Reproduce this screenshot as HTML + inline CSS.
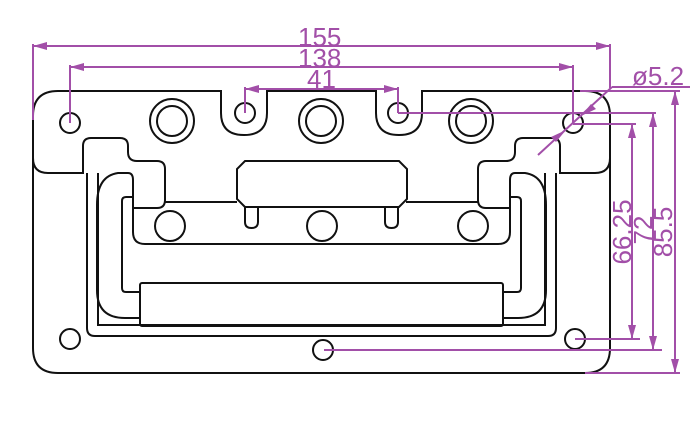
<!DOCTYPE html>
<html><head><meta charset="utf-8"><style>
html,body{margin:0;padding:0;background:#fff;}
svg{display:block;}
text{font-family:"Liberation Sans",sans-serif;fill:#a24fa8;font-size:26px;}
</style></head><body>
<svg width="700" height="446" viewBox="0 0 700 446" xmlns="http://www.w3.org/2000/svg">
<g fill="none" stroke="#111" stroke-width="2">
<!-- outer plate -->
<path d="M58,91 L221,91 L221,113 Q221,135 244,135 Q267,135 267,113 L267,91 L376,91 L376,113 Q376,135 399,135 Q422,135 422,113 L422,91 L585,91 Q610,91 610,116 L610,348 Q610,373 585,373 L58,373 Q33,373 33,348 L33,116 Q33,91 58,91 Z"/>
<!-- holes -->
<circle cx="70" cy="123" r="10"/><circle cx="573" cy="123" r="10"/>
<circle cx="70" cy="339" r="10"/><circle cx="575" cy="339" r="10"/>
<circle cx="323" cy="350" r="10"/>
<circle cx="245" cy="113" r="10"/><circle cx="398" cy="113" r="10"/>
<circle cx="172" cy="121" r="22"/><circle cx="172" cy="121" r="15"/>
<circle cx="321" cy="121" r="22"/><circle cx="321" cy="121" r="15"/>
<circle cx="471" cy="121" r="22"/><circle cx="471" cy="121" r="15"/>
<!-- flange outlines -->
<path d="M33,158 Q33,173 48,173 L83,173 L83,146 Q83,138 91,138 L120,138 Q128,138 128,146 L128,152 Q128,161 137,161 L157,161 Q165,161 165,169 L165,200 Q165,208 157,208 L133,208"/>
<path d="M610,158 Q610,173 595,173 L560,173 L560,146 Q560,138 552,138 L523,138 Q515,138 515,146 L515,152 Q515,161 506,161 L486,161 Q478,161 478,169 L478,200 Q478,208 486,208 L510,208"/>
<path d="M165,202 L237,202 M406,202 L478,202"/>
<!-- center rect -->
<path d="M245,161 L399,161 L407,169 L407,199 L399,207 L245,207 L237,199 L237,169 Z"/>
<!-- slots -->
<path d="M245,207 L245,222 Q245,228 251.5,228 Q258,228 258,222 L258,207"/>
<path d="M385,207 L385,222 Q385,228 391.5,228 Q398,228 398,222 L398,207"/>
<!-- pocket circles -->
<circle cx="170" cy="226" r="15"/><circle cx="322" cy="226" r="15"/><circle cx="473" cy="226" r="15"/>
<!-- pocket/handle -->
<path d="M128,173 Q133,173 133,180 L133,232 Q133,244 145,244 L498,244 Q510,244 510,232 L510,180 Q510,173 515,173"/>
<path d="M128,173 L118,173 Q97,176 97,205 L97,290 Q97,318 125,318 L140,318"/>
<path d="M515,173 L525,173 Q546,176 546,205 L546,290 Q546,318 518,318 L503,318"/>
<path d="M133,197 L126,197 Q122,197 122,201 L122,288 Q122,292 126,292 L140,292"/>
<path d="M510,197 L517,197 Q521,197 521,201 L521,288 Q521,292 517,292 L503,292"/>
<path d="M87,173 L87,328 Q87,336 95,336 L548,336 Q556,336 556,328 L556,173"/>
<path d="M98,173 L98,325 L545,325 L545,173"/>
<rect x="140" y="283" width="363" height="43" rx="2"/>
</g>
<!-- dimensions -->
<g stroke="#a24fa8" stroke-width="2" fill="none">
<path d="M33,44 L33,120 M610,44 L610,88 M33,46 L610,46"/>
<path d="M70,65 L70,123 M573,65 L573,123 M70,67 L573,67"/>
<path d="M245,87 L245,113 M398,87 L398,113 M245,89 L398,89"/>
<path d="M398,113 L656,113 M573,124 L636,124 M580,91 L680,91"/>
<path d="M612,87 L690,87 M612,87 L538,155"/>
<path d="M632,124 L632,339 M653,113 L653,350 M675,91 L675,373"/>
<path d="M575,339 L640,339 M324,350 L662,350 M585,373 L680,373"/>
</g>
<g fill="#a24fa8">
<path d="M33,46 L47,42 L47,50 Z"/><path d="M610,46 L596,42 L596,50 Z"/>
<path d="M70,67 L84,63 L84,71 Z"/><path d="M573,67 L559,63 L559,71 Z"/>
<path d="M245,89 L259,85 L259,93 Z"/><path d="M398,89 L384,85 L384,93 Z"/>
<path d="M632,124 L628,138 L636,138 Z"/><path d="M632,339 L628,325 L636,325 Z"/>
<path d="M653,113 L649,127 L657,127 Z"/><path d="M653,350 L649,336 L657,336 Z"/>
<path d="M675,91 L671,105 L679,105 Z"/><path d="M675,373 L671,359 L679,359 Z"/>
<path d="M581,116 L591,104 L596,109 Z"/><path d="M566,130 L556,142 L551,137 Z"/>
</g>
<text x="298" y="46">155</text>
<text x="298" y="67">138</text>
<text x="307" y="88">41</text>
<text x="632" y="85">ø5.2</text>
<text transform="translate(631,232) rotate(-90)" text-anchor="middle">66.25</text>
<text transform="translate(652,230) rotate(-90)" text-anchor="middle">72</text>
<text transform="translate(672,232) rotate(-90)" text-anchor="middle">85.5</text>
</svg>
</body></html>
